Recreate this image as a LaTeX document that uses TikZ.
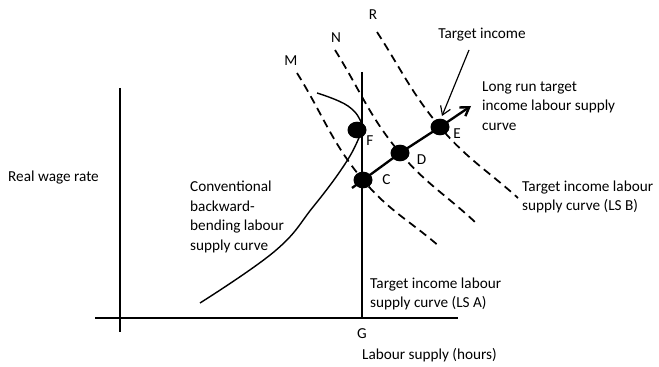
\documentclass[tikz,border=0pt]{standalone}
\usepackage{fontspec}
\setmainfont{Carlito}
\usetikzlibrary{arrows.meta,shapes.geometric}

\begin{document}
\begin{tikzpicture}[x=0.03cm, y=0.03cm,
  txt/.style={font=\fontsize{13}{16.6}\selectfont, inner sep=0pt, align=left},
  dot/.style={ellipse, fill=black, minimum width=0.57cm, minimum height=0.5cm, inner sep=0pt},
  lsline/.style={dash pattern=on 7pt off 4.5pt, line width=1.5pt},
  barb/.style={-{Straight Barb[length=7pt,width=9pt]}}]
\useasboundingbox (0,0) rectangle (659,-367);

% Axes
\coordinate (ytop) at (120,-88);
\coordinate (ybot) at (120,-332);
\coordinate (xl) at (95,-318);
\coordinate (xr) at (458,-318);
\draw[line width=1.1pt] (ytop) -- (ybot);
\draw[line width=1.1pt] (xl) -- (xr);
\node[txt, anchor=west] (wage) at (8,-178) {Real wage rate};
\node[txt] (G) at (362,-334) {G};
\node[txt, anchor=west] (hours) at (362,-355) {Labour supply (hours)};

% Target income labour supply curve (LS A)
\coordinate (Gtop) at (362,-72);
\coordinate (Gbot) at (362,-318);
\draw[line width=1.1pt] (Gtop) -- (Gbot);
\node[txt, anchor=west] (lsa) at (370,-294) {Target income labour\\supply curve (LS A)};

% Conventional curve
\draw[line width=1.2pt] plot[smooth, tension=0.7] coordinates {(200,-303) (275,-251) (313,-207) (343,-167) (358,-140) (362,-125) (348,-106) (317,-93)};
\node[txt, anchor=west] (conv) at (190,-217) {Conventional\\backward-\\bending labour\\supply curve};

% Points
\node[dot, label={[txt, label distance=1pt]-30:F}] (F) at (357,-130) {};
\node[dot, label={[txt, label distance=8pt]0:C}] (C) at (363,-180) {};
\node[dot, label={[txt, label distance=6pt]-5:D}] (D) at (400,-153) {};
\node[dot, label={[txt, label distance=3pt]-8:E}] (E) at (440,-127) {};

% Dashed target income curves
\coordinate (M1) at (297,-73);
\coordinate (M2) at (440,-247);
\coordinate (N1) at (335,-50);
\coordinate (N2) at (475,-222);
\coordinate (R1) at (377,-32);
\coordinate (R2) at (518,-198);
\draw[lsline] (M1) to[out=-58,in=130] (C.center) to[out=-50,in=139] (M2);
\draw[lsline] (N1) to[out=-58,in=130] (D.center) to[out=-50,in=137] (N2);
\draw[lsline] (R1) to[out=-57,in=130] (E.center) to[out=-50,in=138] (R2);
\node[txt] (lM) at (291,-61) {M};
\node[txt] (lN) at (336,-38) {N};
\node[txt] (lR) at (373,-15) {R};
\node[txt, anchor=west] (lsb) at (522,-197) {Target income labour\\supply curve (LS B)};

% Long run curve
\coordinate (C0) at (352,-188);
\coordinate (tip) at (471,-106);
\draw[line width=2pt, barb] (C0) -- (C.center) -- (D.center) -- (E.center) -- (tip);
\node[txt, anchor=west] (longrun) at (482,-106) {Long run target\\income labour supply\\curve};

% Target income arrow
\node[txt] (ti) at (482,-35) {Target income};
\coordinate (tiA) at (469,-50);
\coordinate (tiB) at (442,-116);
\draw[line width=1pt, barb] (tiA) -- (tiB);
\end{tikzpicture}
\end{document}
